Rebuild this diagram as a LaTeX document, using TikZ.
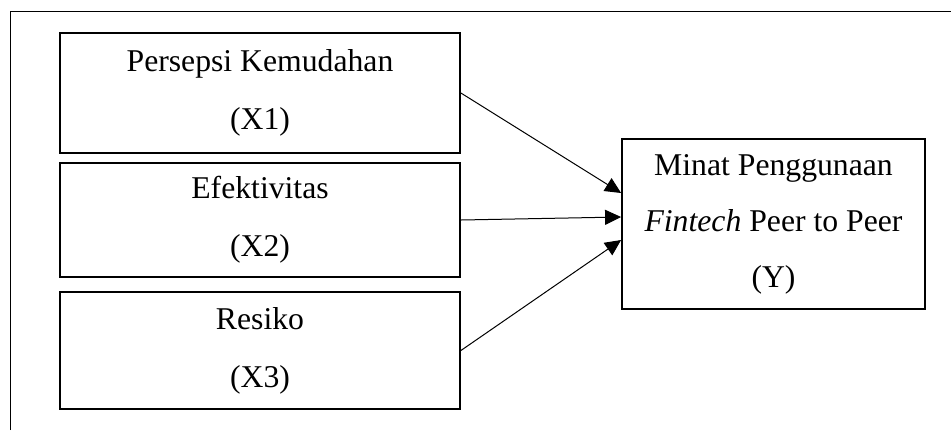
\documentclass[tikz,border=0pt]{standalone}
\usepackage{fontspec}
\setmainfont{Liberation Serif}
\usetikzlibrary{arrows.meta}

\begin{document}
\begin{tikzpicture}[x=0.5pt,y=-0.5pt,
  varbox/.style={draw=black,line width=0.9pt,align=center,inner sep=0pt,
    font=\fontsize{15.85}{29}\selectfont},
  panah/.style={draw=black,line width=0.5pt,-{Triangle[length=8pt,width=7.5pt]}}]

\useasboundingbox (0,0) rectangle (951,430);

% frame
\path[draw=black,line width=0.8pt] (10.5,430) -- (10.5,11.5) -- (951,11.5);

%x1
\node[varbox,minimum width=200pt,minimum height=60pt] (x1) at (260,93) {Persepsi Kemudahan\\(X1)};

%x2
\node[varbox,minimum width=200pt,minimum height=57pt] (x2) at (260,220) {Efektivitas\\(X2)};

%x3
\node[varbox,minimum width=200pt,minimum height=58.5pt] (x3) at (260,350.5) {Resiko\\(X3)};

%y
\node[varbox,minimum width=151.5pt,minimum height=85pt,
  font=\fontsize{15.85}{28}\selectfont] (y) at (773.5,224) {Minat Penggunaan\\\textit{Fintech} Peer to Peer\\(Y)};

\path[panah] (x1.east) -- ([yshift=15.5pt]y.west);
\path[panah] (x2.east) -- ([yshift=3.5pt]y.west);
\path[panah] (x3.east) -- ([yshift=-8pt]y.west);

\end{tikzpicture}
\end{document}
